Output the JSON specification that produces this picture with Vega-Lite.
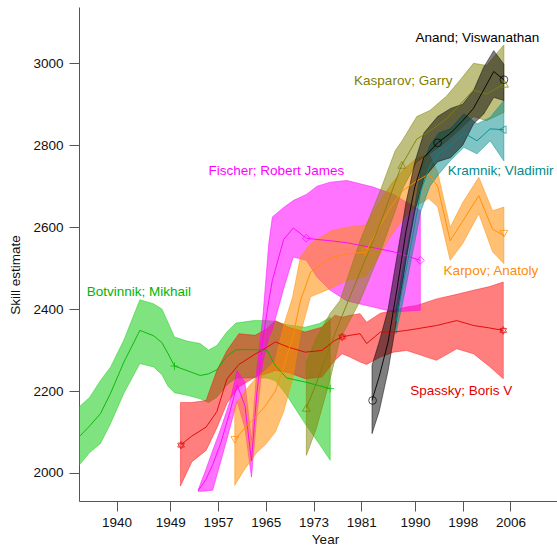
{
  "$schema": "https://vega.github.io/schema/vega-lite/v6.json",
  "width": 478,
  "height": 494,
  "autosize": {"type": "none"},
  "padding": {"left": 79, "top": 7, "right": 0, "bottom": 45},
  "background": "white",
  "config": {
    "view": {"stroke": null},
    "font": "Liberation Sans",
    "axis": {"grid": false, "domainColor": "#555555", "tickColor": "#555555", "tickSize": 10, "labelFont": "Liberation Sans", "labelFontSize": 13.5, "labelColor": "#111111", "titleFont": "Liberation Sans", "titleFontSize": 13.5, "titleFontWeight": "normal", "titleColor": "#111111"}
  },
  "datasets": {
    "bands": [
      {"p":"Botvinnik","year":1933.7,"lo":2019,"mid":2088,"hi":2161},
      {"p":"Botvinnik","year":1935.5,"lo":2050,"mid":2115,"hi":2185},
      {"p":"Botvinnik","year":1937.3,"lo":2072,"mid":2145,"hi":2226},
      {"p":"Botvinnik","year":1939.0,"lo":2121,"mid":2195,"hi":2259},
      {"p":"Botvinnik","year":1941.2,"lo":2194,"mid":2270,"hi":2324},
      {"p":"Botvinnik","year":1943.9,"lo":2267,"mid":2348,"hi":2423},
      {"p":"Botvinnik","year":1946.2,"lo":2259,"mid":2335,"hi":2413},
      {"p":"Botvinnik","year":1947.6,"lo":2240,"mid":2318,"hi":2400},
      {"p":"Botvinnik","year":1948.6,"lo":2212,"mid":2292,"hi":2368},
      {"p":"Botvinnik","year":1949.7,"lo":2196,"mid":2261,"hi":2332},
      {"p":"Botvinnik","year":1951.8,"lo":2190,"mid":2250,"hi":2322},
      {"p":"Botvinnik","year":1954.0,"lo":2181,"mid":2238,"hi":2316},
      {"p":"Botvinnik","year":1955.4,"lo":2172,"mid":2242,"hi":2300},
      {"p":"Botvinnik","year":1956.8,"lo":2185,"mid":2252,"hi":2311},
      {"p":"Botvinnik","year":1958.5,"lo":2215,"mid":2285,"hi":2345},
      {"p":"Botvinnik","year":1960.0,"lo":2232,"mid":2301,"hi":2366},
      {"p":"Botvinnik","year":1963.0,"lo":2232,"mid":2301,"hi":2372},
      {"p":"Botvinnik","year":1965.2,"lo":2232,"mid":2300,"hi":2372},
      {"p":"Botvinnik","year":1966.6,"lo":2225,"mid":2262,"hi":2370},
      {"p":"Botvinnik","year":1968.5,"lo":2190,"mid":2232,"hi":2362},
      {"p":"Botvinnik","year":1971.6,"lo":2120,"mid":2222,"hi":2356},
      {"p":"Botvinnik","year":1974.0,"lo":2070,"mid":2213,"hi":2365},
      {"p":"Botvinnik","year":1975.8,"lo":2031,"mid":2206,"hi":2380},

      {"p":"Spassky","year":1950.7,"lo":1968,"mid":2068,"hi":2172},
      {"p":"Spassky","year":1952.6,"lo":2027,"mid":2090,"hi":2172},
      {"p":"Spassky","year":1955.0,"lo":2055,"mid":2112,"hi":2177},
      {"p":"Spassky","year":1956.8,"lo":2110,"mid":2150,"hi":2250},
      {"p":"Spassky","year":1958.5,"lo":2170,"mid":2230,"hi":2299},
      {"p":"Spassky","year":1960.5,"lo":2210,"mid":2265,"hi":2340},
      {"p":"Spassky","year":1963.2,"lo":2234,"mid":2290,"hi":2336},
      {"p":"Spassky","year":1965.0,"lo":2242,"mid":2305,"hi":2350},
      {"p":"Spassky","year":1966.6,"lo":2250,"mid":2320,"hi":2372},
      {"p":"Spassky","year":1968.8,"lo":2245,"mid":2307,"hi":2356},
      {"p":"Spassky","year":1971.6,"lo":2230,"mid":2295,"hi":2344},
      {"p":"Spassky","year":1974.4,"lo":2234,"mid":2299,"hi":2356},
      {"p":"Spassky","year":1976.6,"lo":2275,"mid":2324,"hi":2385},
      {"p":"Spassky","year":1977.8,"lo":2291,"mid":2332,"hi":2380},
      {"p":"Spassky","year":1979.1,"lo":2283,"mid":2336,"hi":2385},
      {"p":"Spassky","year":1980.8,"lo":2271,"mid":2340,"hi":2389},
      {"p":"Spassky","year":1981.9,"lo":2265,"mid":2316,"hi":2368},
      {"p":"Spassky","year":1984.2,"lo":2283,"mid":2344,"hi":2390},
      {"p":"Spassky","year":1986.4,"lo":2295,"mid":2344,"hi":2397},
      {"p":"Spassky","year":1988.6,"lo":2299,"mid":2348,"hi":2405},
      {"p":"Spassky","year":1990.3,"lo":2291,"mid":2352,"hi":2409},
      {"p":"Spassky","year":1993.6,"lo":2275,"mid":2360,"hi":2425},
      {"p":"Spassky","year":1997.0,"lo":2303,"mid":2372,"hi":2436},
      {"p":"Spassky","year":1999.8,"lo":2291,"mid":2360,"hi":2446},
      {"p":"Spassky","year":2002.5,"lo":2260,"mid":2354,"hi":2455},
      {"p":"Spassky","year":2004.8,"lo":2230,"mid":2348,"hi":2466},

      {"p":"Fischer","year":1953.7,"lo":1955,"mid":1957,"hi":1960},
      {"p":"Fischer","year":1955.0,"lo":1956,"mid":1985,"hi":2010},
      {"p":"Fischer","year":1956.1,"lo":1958,"mid":2020,"hi":2055},
      {"p":"Fischer","year":1957.5,"lo":2030,"mid":2075,"hi":2110},
      {"p":"Fischer","year":1959.0,"lo":2110,"mid":2150,"hi":2175},
      {"p":"Fischer","year":1960.2,"lo":2175,"mid":2215,"hi":2250},
      {"p":"Fischer","year":1961.5,"lo":2110,"mid":2165,"hi":2222},
      {"p":"Fischer","year":1962.6,"lo":1990,"mid":2030,"hi":2080},
      {"p":"Fischer","year":1963.5,"lo":2140,"mid":2195,"hi":2255},
      {"p":"Fischer","year":1964.5,"lo":2270,"mid":2325,"hi":2380},
      {"p":"Fischer","year":1965.5,"lo":2330,"mid":2420,"hi":2560},
      {"p":"Fischer","year":1966.1,"lo":2350,"mid":2470,"hi":2625},
      {"p":"Fischer","year":1968.0,"lo":2450,"mid":2570,"hi":2648},
      {"p":"Fischer","year":1969.6,"lo":2527,"mid":2598,"hi":2665},
      {"p":"Fischer","year":1971.8,"lo":2519,"mid":2573,"hi":2680},
      {"p":"Fischer","year":1973.6,"lo":2478,"mid":2570,"hi":2700},
      {"p":"Fischer","year":1975.8,"lo":2446,"mid":2567,"hi":2710},
      {"p":"Fischer","year":1978.6,"lo":2420,"mid":2562,"hi":2714},
      {"p":"Fischer","year":1983.0,"lo":2405,"mid":2550,"hi":2698},
      {"p":"Fischer","year":1986.4,"lo":2393,"mid":2540,"hi":2680},
      {"p":"Fischer","year":1990.9,"lo":2397,"mid":2519,"hi":2641},

      {"p":"Karpov","year":1959.8,"lo":1970,"mid":2081,"hi":2165},
      {"p":"Karpov","year":1961.5,"lo":2010,"mid":2110,"hi":2200},
      {"p":"Karpov","year":1963.5,"lo":2050,"mid":2140,"hi":2234},
      {"p":"Karpov","year":1965.0,"lo":2070,"mid":2165,"hi":2250},
      {"p":"Karpov","year":1966.6,"lo":2100,"mid":2200,"hi":2275},
      {"p":"Karpov","year":1968.0,"lo":2150,"mid":2260,"hi":2360},
      {"p":"Karpov","year":1969.5,"lo":2230,"mid":2330,"hi":2430},
      {"p":"Karpov","year":1970.8,"lo":2340,"mid":2420,"hi":2527},
      {"p":"Karpov","year":1972.5,"lo":2430,"mid":2490,"hi":2560},
      {"p":"Karpov","year":1975.8,"lo":2450,"mid":2525,"hi":2590},
      {"p":"Karpov","year":1978.6,"lo":2470,"mid":2535,"hi":2600},
      {"p":"Karpov","year":1981.7,"lo":2480,"mid":2539,"hi":2605},
      {"p":"Karpov","year":1984.0,"lo":2530,"mid":2600,"hi":2660},
      {"p":"Karpov","year":1986.0,"lo":2580,"mid":2650,"hi":2705},
      {"p":"Karpov","year":1988.0,"lo":2620,"mid":2690,"hi":2740},
      {"p":"Karpov","year":1990.0,"lo":2650,"mid":2710,"hi":2765},
      {"p":"Karpov","year":1992.3,"lo":2670,"mid":2730,"hi":2780},
      {"p":"Karpov","year":1993.8,"lo":2650,"mid":2700,"hi":2735},
      {"p":"Karpov","year":1995.9,"lo":2519,"mid":2567,"hi":2600},
      {"p":"Karpov","year":1998.0,"lo":2560,"mid":2615,"hi":2660},
      {"p":"Karpov","year":2000.7,"lo":2633,"mid":2677,"hi":2722},
      {"p":"Karpov","year":2003.0,"lo":2540,"mid":2595,"hi":2640},
      {"p":"Karpov","year":2004.9,"lo":2511,"mid":2580,"hi":2649},

      {"p":"Kasparov","year":1971.8,"lo":2043,"mid":2159,"hi":2271},
      {"p":"Kasparov","year":1973.5,"lo":2110,"mid":2220,"hi":2330},
      {"p":"Kasparov","year":1975.8,"lo":2230,"mid":2310,"hi":2390},
      {"p":"Kasparov","year":1977.4,"lo":2325,"mid":2370,"hi":2420},
      {"p":"Kasparov","year":1980.8,"lo":2420,"mid":2490,"hi":2567},
      {"p":"Kasparov","year":1984.2,"lo":2540,"mid":2610,"hi":2690},
      {"p":"Kasparov","year":1986.7,"lo":2640,"mid":2710,"hi":2787},
      {"p":"Kasparov","year":1987.8,"lo":2690,"mid":2752,"hi":2810},
      {"p":"Kasparov","year":1990.3,"lo":2760,"mid":2815,"hi":2870},
      {"p":"Kasparov","year":1992.5,"lo":2780,"mid":2835,"hi":2885},
      {"p":"Kasparov","year":1995.3,"lo":2810,"mid":2865,"hi":2920},
      {"p":"Kasparov","year":1997.6,"lo":2840,"mid":2900,"hi":2960},
      {"p":"Kasparov","year":1999.8,"lo":2870,"mid":2935,"hi":3000},
      {"p":"Kasparov","year":2002.0,"lo":2860,"mid":2925,"hi":2995},
      {"p":"Kasparov","year":2004.9,"lo":2880,"mid":2950,"hi":3045},

      {"p":"Kramnik","year":1986.8,"lo":2340,"mid":2370,"hi":2400},
      {"p":"Kramnik","year":1988.0,"lo":2420,"mid":2460,"hi":2500},
      {"p":"Kramnik","year":1989.5,"lo":2530,"mid":2570,"hi":2610},
      {"p":"Kramnik","year":1991.0,"lo":2640,"mid":2690,"hi":2740},
      {"p":"Kramnik","year":1992.5,"lo":2700,"mid":2750,"hi":2800},
      {"p":"Kramnik","year":1994.0,"lo":2730,"mid":2780,"hi":2830},
      {"p":"Kramnik","year":1995.9,"lo":2762,"mid":2800,"hi":2840},
      {"p":"Kramnik","year":1998.2,"lo":2795,"mid":2830,"hi":2877},
      {"p":"Kramnik","year":2000.4,"lo":2779,"mid":2811,"hi":2852},
      {"p":"Kramnik","year":2002.6,"lo":2811,"mid":2840,"hi":2868},
      {"p":"Kramnik","year":2004.9,"lo":2762,"mid":2838,"hi":2909},

      {"p":"Anand","year":1982.8,"lo":2096,"mid":2177,"hi":2263},
      {"p":"Anand","year":1984.0,"lo":2150,"mid":2235,"hi":2320},
      {"p":"Anand","year":1985.5,"lo":2250,"mid":2320,"hi":2400},
      {"p":"Anand","year":1987.0,"lo":2380,"mid":2450,"hi":2530},
      {"p":"Anand","year":1988.5,"lo":2520,"mid":2590,"hi":2660},
      {"p":"Anand","year":1990.0,"lo":2640,"mid":2700,"hi":2760},
      {"p":"Anand","year":1991.5,"lo":2720,"mid":2770,"hi":2830},
      {"p":"Anand","year":1993.8,"lo":2760,"mid":2806,"hi":2870},
      {"p":"Anand","year":1996.0,"lo":2770,"mid":2830,"hi":2890},
      {"p":"Anand","year":1998.0,"lo":2800,"mid":2860,"hi":2900},
      {"p":"Anand","year":1999.8,"lo":2852,"mid":2890,"hi":2933},
      {"p":"Anand","year":2001.5,"lo":2876,"mid":2935,"hi":2990},
      {"p":"Anand","year":2003.2,"lo":2917,"mid":2980,"hi":3031},
      {"p":"Anand","year":2004.9,"lo":2909,"mid":2960,"hi":2998}
    ],
    "markers": [
      {"p":"Botvinnik","year":1949.7,"value":2261},
      {"p":"Botvinnik","year":1975.8,"value":2206},
      {"p":"Spassky","year":1950.8,"value":2068},
      {"p":"Spassky","year":1977.8,"value":2332},
      {"p":"Spassky","year":2004.8,"value":2348},
      {"p":"Fischer","year":1971.8,"value":2573},
      {"p":"Fischer","year":1990.9,"value":2519},
      {"p":"Karpov","year":1959.8,"value":2081},
      {"p":"Karpov","year":1981.7,"value":2539},
      {"p":"Karpov","year":2004.9,"value":2584},
      {"p":"Kasparov","year":1971.8,"value":2159},
      {"p":"Kasparov","year":1987.8,"value":2752},
      {"p":"Kasparov","year":2005.0,"value":2950},
      {"p":"Kramnik","year":2004.7,"value":2838},
      {"p":"Anand","year":1982.9,"value":2177},
      {"p":"Anand","year":1993.8,"value":2806},
      {"p":"Anand","year":2004.9,"value":2960}
    ],
    "labels": [
      {"p":"Botvinnik","year":1935.0,"value":2443,"text":"Botvinnik; Mikhail"},
      {"p":"Fischer","year":1955.4,"value":2738,"text":"Fischer; Robert James"},
      {"p":"Kasparov","year":1979.8,"value":2957,"text":"Kasparov; Garry"},
      {"p":"Anand","year":1990.1,"value":3061,"text":"Anand; Viswanathan"},
      {"p":"Kramnik","year":1995.5,"value":2737,"text":"Kramnik; Vladimir"},
      {"p":"Karpov","year":1994.8,"value":2494,"text":"Karpov; Anatoly"},
      {"p":"Spassky","year":1989.2,"value":2199,"text":"Spassky; Boris V"}
    ]
  },
  "encoding": {
    "x": {"field": "year", "type": "quantitative", "scale": {"domain": [1933.7, 2013.8], "nice": false, "zero": false},
          "axis": {"values": [1940, 1949, 1957, 1965, 1973, 1981, 1990, 1998, 2006], "format": "d", "labelPadding": 4, "labelFlush": false, "title": "Year", "titleX": 246, "titleY": 42, "titleBaseline": "alphabetic"}}
  },
  "layer": [
    {
      "data": {"name": "bands"},
      "transform": [{"filter": "datum.p === 'Botvinnik'"}],
      "mark": {"type": "area", "fill": "#00c800", "fillOpacity": 0.5, "stroke": "#00c800", "strokeOpacity": 0.5, "strokeWidth": 0.8, "clip": true},
      "encoding": {
        "y": {"field": "lo", "type": "quantitative", "scale": {"domain": [1931.6, 3137.5], "nice": false, "zero": false},
              "axis": {"values": [2000, 2200, 2400, 2600, 2800, 3000], "format": "d", "labelPadding": 6, "title": "Skill estimate", "titleX": -60, "titleY": 267.5, "titleBaseline": "alphabetic"}},
        "y2": {"field": "hi"}
      }
    },
    {
      "data": {"name": "bands"},
      "transform": [{"filter": "datum.p === 'Spassky'"}],
      "mark": {"type": "area", "fill": "#ff0000", "fillOpacity": 0.5, "stroke": "#ff0000", "strokeOpacity": 0.5, "strokeWidth": 0.8, "clip": true},
      "encoding": {
        "y": {"field": "lo", "type": "quantitative", "scale": {"domain": [1931.6, 3137.5], "nice": false, "zero": false},
              "axis": {"values": [2000, 2200, 2400, 2600, 2800, 3000], "format": "d", "labelPadding": 6, "title": "Skill estimate", "titleX": -60, "titleY": 267.5, "titleBaseline": "alphabetic"}},
        "y2": {"field": "hi"}
      }
    },
    {
      "data": {"name": "bands"},
      "transform": [{"filter": "datum.p === 'Fischer'"}],
      "mark": {"type": "area", "fill": "#ff00ff", "fillOpacity": 0.55, "stroke": "#ff00ff", "strokeOpacity": 0.6, "strokeWidth": 0.8, "clip": true},
      "encoding": {
        "y": {"field": "lo", "type": "quantitative", "scale": {"domain": [1931.6, 3137.5], "nice": false, "zero": false},
              "axis": {"values": [2000, 2200, 2400, 2600, 2800, 3000], "format": "d", "labelPadding": 6, "title": "Skill estimate", "titleX": -60, "titleY": 267.5, "titleBaseline": "alphabetic"}},
        "y2": {"field": "hi"}
      }
    },
    {
      "data": {"name": "bands"},
      "transform": [{"filter": "datum.p === 'Karpov'"}],
      "mark": {"type": "area", "fill": "#ff8c00", "fillOpacity": 0.55, "stroke": "#ff8c00", "strokeOpacity": 0.6, "strokeWidth": 0.8, "clip": true},
      "encoding": {
        "y": {"field": "lo", "type": "quantitative", "scale": {"domain": [1931.6, 3137.5], "nice": false, "zero": false},
              "axis": {"values": [2000, 2200, 2400, 2600, 2800, 3000], "format": "d", "labelPadding": 6, "title": "Skill estimate", "titleX": -60, "titleY": 267.5, "titleBaseline": "alphabetic"}},
        "y2": {"field": "hi"}
      }
    },
    {
      "data": {"name": "bands"},
      "transform": [{"filter": "datum.p === 'Kasparov'"}],
      "mark": {"type": "area", "fill": "#808000", "fillOpacity": 0.5, "stroke": "#808000", "strokeOpacity": 0.6, "strokeWidth": 0.8, "clip": true},
      "encoding": {
        "y": {"field": "lo", "type": "quantitative", "scale": {"domain": [1931.6, 3137.5], "nice": false, "zero": false},
              "axis": {"values": [2000, 2200, 2400, 2600, 2800, 3000], "format": "d", "labelPadding": 6, "title": "Skill estimate", "titleX": -60, "titleY": 267.5, "titleBaseline": "alphabetic"}},
        "y2": {"field": "hi"}
      }
    },
    {
      "data": {"name": "bands"},
      "transform": [{"filter": "datum.p === 'Kramnik'"}],
      "mark": {"type": "area", "fill": "#008b8b", "fillOpacity": 0.5, "stroke": "#008b8b", "strokeOpacity": 0.6, "strokeWidth": 0.8, "clip": true},
      "encoding": {
        "y": {"field": "lo", "type": "quantitative", "scale": {"domain": [1931.6, 3137.5], "nice": false, "zero": false},
              "axis": {"values": [2000, 2200, 2400, 2600, 2800, 3000], "format": "d", "labelPadding": 6, "title": "Skill estimate", "titleX": -60, "titleY": 267.5, "titleBaseline": "alphabetic"}},
        "y2": {"field": "hi"}
      }
    },
    {
      "data": {"name": "bands"},
      "transform": [{"filter": "datum.p === 'Anand'"}],
      "mark": {"type": "area", "fill": "#000000", "fillOpacity": 0.5, "stroke": "#000000", "strokeOpacity": 0.6, "strokeWidth": 0.8, "clip": true},
      "encoding": {
        "y": {"field": "lo", "type": "quantitative", "scale": {"domain": [1931.6, 3137.5], "nice": false, "zero": false},
              "axis": {"values": [2000, 2200, 2400, 2600, 2800, 3000], "format": "d", "labelPadding": 6, "title": "Skill estimate", "titleX": -60, "titleY": 267.5, "titleBaseline": "alphabetic"}},
        "y2": {"field": "hi"}
      }
    },
    {
      "data": {"name": "bands"},
      "mark": {"type": "line", "strokeWidth": 0.9, "clip": true},
      "encoding": {
        "y": {"field": "mid", "type": "quantitative", "scale": {"domain": [1931.6, 3137.5], "nice": false, "zero": false},
              "axis": {"values": [2000, 2200, 2400, 2600, 2800, 3000], "format": "d", "labelPadding": 6, "title": "Skill estimate", "titleX": -60, "titleY": 267.5, "titleBaseline": "alphabetic"}},
        "color": {"field": "p", "type": "nominal", "legend": null,
                  "scale": {"domain": ["Botvinnik", "Spassky", "Fischer", "Karpov", "Kasparov", "Kramnik", "Anand"], "range": ["#00b400", "#e00000", "#ff00ff", "#ff8c00", "#808000", "#008b8b", "#000000"]}}
      }
    },
    {
      "data": {"name": "markers"},
      "mark": {"type": "point", "filled": false, "strokeWidth": 1, "size": 60, "clip": true},
      "encoding": {
        "y": {"field": "value", "type": "quantitative", "scale": {"domain": [1931.6, 3137.5], "nice": false, "zero": false},
              "axis": {"values": [2000, 2200, 2400, 2600, 2800, 3000], "format": "d", "labelPadding": 6, "title": "Skill estimate", "titleX": -60, "titleY": 267.5, "titleBaseline": "alphabetic"}},
        "color": {"field": "p", "type": "nominal", "legend": null},
        "shape": {"field": "p", "type": "nominal", "legend": null,
                  "scale": {"domain": ["Botvinnik", "Spassky", "Fischer", "Karpov", "Kasparov", "Kramnik", "Anand"],
                            "range": ["M-1,0L1,0M0,-1L0,1", "M0,-1L0.866,0.5L-0.866,0.5ZM0,1L0.866,-0.5L-0.866,-0.5Z", "diamond", "triangle-down", "triangle-up", "triangle-left", "circle"]}}
      }
    },
    {
      "data": {"name": "labels"},
      "mark": {"type": "text", "align": "left", "baseline": "middle", "fontSize": 13.5, "font": "Liberation Sans"},
      "encoding": {
        "y": {"field": "value", "type": "quantitative", "scale": {"domain": [1931.6, 3137.5], "nice": false, "zero": false},
              "axis": {"values": [2000, 2200, 2400, 2600, 2800, 3000], "format": "d", "labelPadding": 6, "title": "Skill estimate", "titleX": -60, "titleY": 267.5, "titleBaseline": "alphabetic"}},
        "text": {"field": "text"},
        "color": {"field": "p", "type": "nominal", "legend": null}
      }
    }
  ]
}
